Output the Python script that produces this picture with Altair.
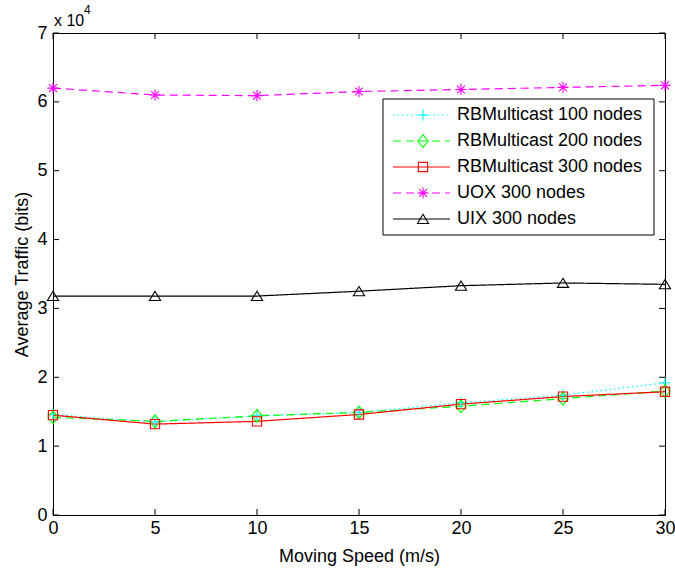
import altair as alt
import pandas as pd

# ---------------- data ----------------
speed = [0, 5, 10, 15, 20, 25, 30]
rb100 = [14600, 13500, 14400, 14900, 16300, 17400, 19200]
rb200 = [14200, 13600, 14400, 14900, 15800, 16900, 18000]
rb300 = [14500, 13200, 13600, 14600, 16100, 17200, 17900]
uox300 = [62000, 61000, 60900, 61500, 61800, 62100, 62400]
uix300 = [31800, 31800, 31800, 32500, 33300, 33700, 33500]
series_names = ["RBMulticast 100 nodes", "RBMulticast 200 nodes",
                "RBMulticast 300 nodes", "UOX 300 nodes", "UIX 300 nodes"]
x_ticks = [0, 5, 10, 15, 20, 25, 30]
y_ticks = [0, 10000, 20000, 30000, 40000, 50000, 60000, 70000]

# ---------------- styles ----------------
colors = ["#00ffff", "#00ff00", "#ff0000", "#ff00ff", "#000000"]
dashes = [[1.5, 3], [8, 5], [1, 0], [8, 5], [1, 0]]
shapes = [
    "M-1,0H1M0,-1V1",
    "M0,-1L0.8,0L0,1L-0.8,0Z",
    "square",
    "M-1,0H1M0,-1V1M-0.7,-0.7L0.7,0.7M-0.7,0.7L0.7,-0.7",
    "M0,-0.85L1,0.8L-1,0.8Z",
]
sizes = [130, 165, 85, 125, 125]
FONT = "Liberation Sans"
FS = 18
W, H = 612, 482

rows = []
for name, vals in zip(series_names, [rb100, rb200, rb300, uox300, uix300]):
    for s, v in zip(speed, vals):
        rows.append({"series": name, "speed": s, "traffic": v})
df = pd.DataFrame(rows)
leg_df = pd.DataFrame({"series": series_names, "i": list(range(len(series_names)))})

color_enc = alt.Color("series:N", scale=alt.Scale(domain=series_names, range=colors), legend=None)
dash_enc = alt.StrokeDash("series:N", scale=alt.Scale(domain=series_names, range=dashes), legend=None)
shape_enc = alt.Shape("series:N", scale=alt.Scale(domain=series_names, range=shapes), legend=None)
size_enc = alt.Size("series:N", scale=alt.Scale(type="ordinal", domain=series_names, range=sizes),
                    legend=None)

x_enc = alt.X("speed:Q", scale=alt.Scale(domain=[0, 30], nice=False),
              axis=alt.Axis(values=x_ticks, ticks=False, domain=False, grid=False, labelFlush=False,
                            title="Moving Speed (m/s)", labelPadding=4, titlePadding=10))
y_enc = alt.Y("traffic:Q", scale=alt.Scale(domain=[0, 70000], nice=False),
              axis=alt.Axis(values=y_ticks, labelExpr="datum.value / 10000", ticks=False,
                            domain=False, grid=False, labelFlush=False,
                            title="Average Traffic (bits)", labelPadding=6, titlePadding=5))

base = alt.Chart(df)
lines = base.mark_line(strokeWidth=1.2).encode(
    x=x_enc, y=y_enc, color=color_enc, strokeDash=dash_enc, detail="series:N", order="speed:Q")
points = base.mark_point(filled=False, strokeWidth=1.1, opacity=1).encode(
    x="speed:Q", y="traffic:Q", color=color_enc, shape=shape_enc, size=size_enc)

# inward ticks on all four sides
xt = alt.Chart(pd.DataFrame({"speed": x_ticks}))
yt = alt.Chart(pd.DataFrame({"traffic": y_ticks}))
tick_b = xt.mark_rule(color="black").encode(x="speed:Q", y=alt.value(H), y2=alt.value(H - 6))
tick_t = xt.mark_rule(color="black").encode(x="speed:Q", y=alt.value(0), y2=alt.value(6))
tick_l = yt.mark_rule(color="black").encode(y="traffic:Q", x=alt.value(0), x2=alt.value(6))
tick_r = yt.mark_rule(color="black").encode(y="traffic:Q", x=alt.value(W), x2=alt.value(W - 6))

# legend
one = alt.Chart(alt.Data(values=[{"k": 1}]))
leg_box = one.mark_rect(fill="white", stroke="black", strokeWidth=1).encode(
    x=alt.value(330), x2=alt.value(601), y=alt.value(66), y2=alt.value(202))
leg = alt.Chart(leg_df).transform_calculate(ly="82 + 26 * datum.i")
ly = alt.Y("ly:Q", scale=None, axis=None)
leg_line = leg.mark_rule(strokeWidth=1.2).encode(
    x=alt.value(340), x2=alt.value(397), y=ly, color=color_enc, strokeDash=dash_enc)
leg_pt = leg.mark_point(filled=False, strokeWidth=1.1, opacity=1).encode(
    x=alt.value(370), y=ly, color=color_enc, shape=shape_enc, size=size_enc)
leg_txt = leg.mark_text(align="left", baseline="middle", font=FONT, fontSize=FS, color="black").encode(
    x=alt.value(404), y=ly, text="series:N")

# exponent label
exp_txt = one.mark_text(align="left", baseline="middle", font=FONT, fontSize=16, color="black").encode(
    x=alt.value(1), y=alt.value(-12), text=alt.value("x 10"))
exp_pow = one.mark_text(align="left", baseline="middle", font=FONT, fontSize=12, color="black").encode(
    x=alt.value(31), y=alt.value(-23), text=alt.value("4"))

chart = alt.layer(
    lines, points, tick_b, tick_t, tick_l, tick_r,
    leg_box, leg_line, leg_pt, leg_txt, exp_txt, exp_pow
).properties(
    width=W, height=H, autosize="none",
    padding={"left": 53, "top": 33, "right": 10, "bottom": 53},
    background="white",
).configure_view(
    stroke="black", strokeWidth=1
).configure_axis(
    labelFont=FONT, labelFontSize=FS, labelColor="black",
    titleFont=FONT, titleFontSize=FS, titleFontWeight="normal", titleColor="black",
)

chart.save("out.html", embed_options={"renderer": "svg", "actions": False})
